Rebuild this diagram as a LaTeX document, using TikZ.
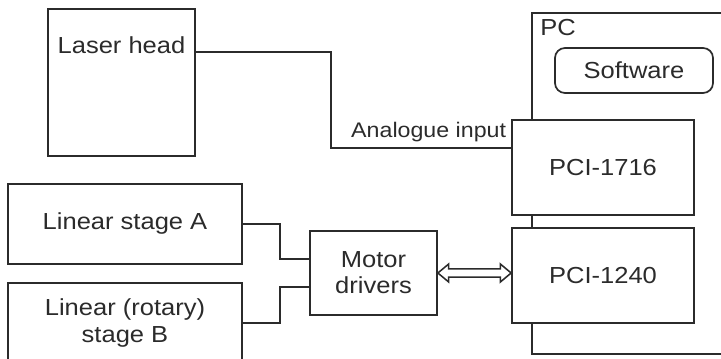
\documentclass[tikz,border=0pt]{standalone}
\usepackage{fontspec}
\setmainfont{Liberation Sans}[FakeStretch=1.1]
\usepackage{tikz}
\usetikzlibrary{arrows.meta,positioning,calc}
\definecolor{ink}{HTML}{2B2B2B}

\begin{document}
\begin{tikzpicture}[x=0.025cm, y=-0.025cm,
    box/.style={draw=ink, line width=1.2pt, fill=white, text=ink, inner sep=0pt,
        font=\fontsize{16.5}{18.5}\selectfont, align=center},
    wire/.style={draw=ink, line width=1pt}]
    \useasboundingbox (0,0) rectangle (721,359);

    % PC enclosure and its contents
    \node[box, minimum width=5.2cm, minimum height=8.525cm] (pc) at (636,183.5) {};
    \node[text=ink, inner sep=0pt, anchor=west, font=\fontsize{16.5}{18.5}\selectfont] (pclabel) at (540,28) {PC};
    \node[box, rounded corners=0.25cm, minimum width=3.95cm, minimum height=1.125cm] (soft) at (634,70.5) {Software};
    \node[box, minimum width=4.55cm, minimum height=2.375cm] (pcia) at (603,167.5) {PCI-1716};
    \node[box, minimum width=4.55cm, minimum height=2.375cm] (pcib) at (603,275.5) {PCI-1240};

    % Laser head and stages
    \node[box, minimum width=3.675cm, minimum height=3.675cm,
        label={[text=ink, font=\fontsize{16.5}{18.5}\selectfont, anchor=center, yshift=-0.93cm]north:Laser head}] (laser) at (121.5,82.5) {};
    \node[box, minimum width=5.85cm, minimum height=2cm] (stagea) at (125,224) {Linear stage A};
    \node[box, minimum width=5.85cm, minimum height=2cm] (stageb) at (125,323) {Linear (rotary)\\stage B};
    \node[box, minimum width=3.175cm, minimum height=2.1cm] (motor) at (373.5,273) {Motor\\drivers};

    % Analogue signal to the card
    \draw[wire] ([yshift=0.76cm]laser.east) -- ++(3.375cm,0) |- ([yshift=0.49cm]pcia.west);
    \node[text=ink, inner sep=0pt, anchor=south east, font=\fontsize{15}{17}\selectfont] (ainput)
        at ([xshift=-0.12cm, yshift=0.15cm]$(pcia.west)+(0,0.49cm)$) {Analogue input};

    % Stages to drivers
    \draw[wire] (stagea.east) -- ++(0.925cm,0) |- ([yshift=0.35cm]motor.west);
    \draw[wire] (stageb.east) -- ++(0.925cm,0) |- ([yshift=-0.35cm]motor.west);

    % Drivers to motion card (hollow double arrow)
    \coordinate (busl) at (motor.east);
    \coordinate (busr) at (motor.east -| pcib.west);
    \draw[ink, line width=1.1pt, line join=miter]
        (busl) -- ++(0.27cm,0.225cm) -- ++(0,-0.12cm) -- ($(busr)+(-0.27cm,0.105cm)$)
        -- ++(0,0.12cm) -- (busr) -- ++(-0.27cm,-0.225cm) -- ++(0,0.12cm)
        -- ($(busl)+(0.27cm,-0.105cm)$) -- ++(0,-0.12cm) -- cycle;
\end{tikzpicture}
\end{document}
